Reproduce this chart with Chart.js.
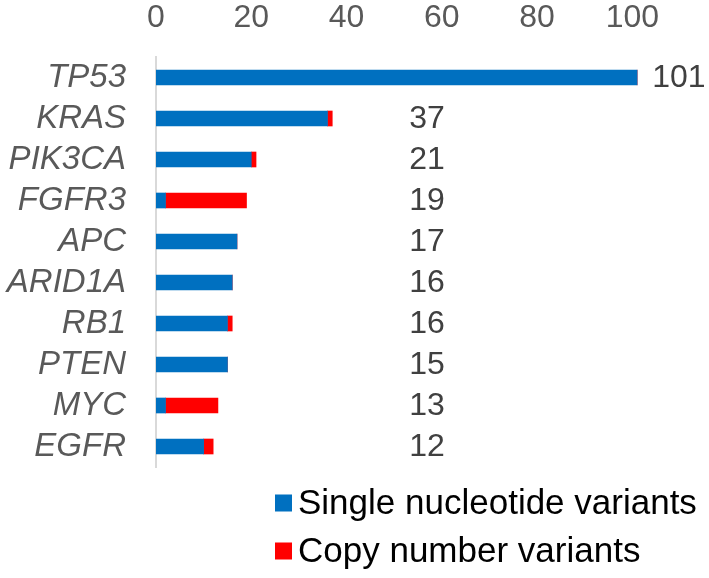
<!DOCTYPE html>
<html>
<head>
<meta charset="utf-8">
<script src="https://cdn.jsdelivr.net/npm/chart.js@4/dist/chart.umd.min.js"></script>
<style>
  html, body { margin: 0; padding: 0; background: #ffffff; }
  #wrap { width: 709px; height: 578px; }
</style>
</head>
<body>
<div id="wrap"><canvas id="c" width="709" height="578"></canvas></div>
<script>
const genes = ["TP53", "KRAS", "PIK3CA", "FGFR3", "APC", "ARID1A", "RB1", "PTEN", "MYC", "EGFR"];
const snv = [101, 36, 20, 2, 17, 16, 15, 15, 2, 10];
const cnv = [0, 1, 1, 17, 0, 0, 1, 0, 11, 2];
const seriesNames = ["Single nucleotide variants", "Copy number variants"];
const seriesColors = ["#0070C0", "#FF0000"];
const xTickValues = [0, 20, 40, 60, 80, 100];

const totalLabels = {
  id: "totalLabels",
  afterDatasetsDraw(chart) {
    const ctx = chart.ctx;
    const xs = chart.scales.x;
    const ys = chart.scales.y;
    ctx.save();
    ctx.font = "32px 'Liberation Sans', Arial, sans-serif";
    ctx.fillStyle = "#404040";
    ctx.textAlign = "left";
    ctx.textBaseline = "middle";
    genes.forEach((g, i) => {
      const total = snv[i] + cnv[i];
      const x = Math.max(xs.getPixelForValue(total), xs.getPixelForValue(50)) + 15;
      const y = ys.getPixelForValue(i);
      ctx.fillText(String(total), x, y + 1);
    });
    ctx.restore();
  }
};

const customLegend = {
  id: "customLegend",
  afterDraw(chart) {
    const ctx = chart.ctx;
    ctx.save();
    ctx.font = "35px 'Liberation Sans', Arial, sans-serif";
    ctx.textAlign = "left";
    ctx.textBaseline = "middle";
    chart.data.datasets.forEach((ds, i) => {
      const cy = 503 + i * 48;
      ctx.fillStyle = ds.backgroundColor;
      ctx.fillRect(275, cy - 8.5, 17, 17);
      ctx.fillStyle = "#000000";
      ctx.fillText(ds.label, 298, cy + 1);
    });
    ctx.restore();
  }
};

new Chart(document.getElementById("c"), {
  type: "bar",
  data: {
    labels: genes,
    datasets: [
      { label: seriesNames[0], data: snv, backgroundColor: seriesColors[0], barThickness: 15 },
      { label: seriesNames[1], data: cnv, backgroundColor: seriesColors[1], barThickness: 15 }
    ]
  },
  options: {
    indexAxis: "y",
    responsive: false,
    animation: false,
    devicePixelRatio: 1,
    layout: { padding: { left: 0, right: 29, top: 0, bottom: 111 } },
    plugins: {
      legend: { display: false },
      tooltip: { enabled: false }
    },
    scales: {
      x: {
        position: "top",
        stacked: true,
        min: 0,
        max: 110,
        afterBuildTicks(scale) {
          scale.ticks = xTickValues.map(v => ({ value: v }));
        },
        afterFit(scale) { scale.height = 57; },
        grid: { display: false, drawTicks: false },
        border: { display: false },
        ticks: {
          color: "#595959",
          font: { family: "'Liberation Sans', Arial, sans-serif", size: 32 },
          padding: 20,
          maxRotation: 0,
          autoSkip: false
        }
      },
      y: {
        stacked: true,
        afterFit(scale) { scale.width = 156; },
        grid: { display: false, drawTicks: false },
        border: { display: true, color: "#D9D9D9", width: 2 },
        ticks: {
          color: "#595959",
          font: { family: "'Liberation Sans', Arial, sans-serif", size: 33, style: "italic" },
          padding: 30,
          autoSkip: false
        }
      }
    }
  },
  plugins: [totalLabels, customLegend]
});
</script>
</body>
</html>
